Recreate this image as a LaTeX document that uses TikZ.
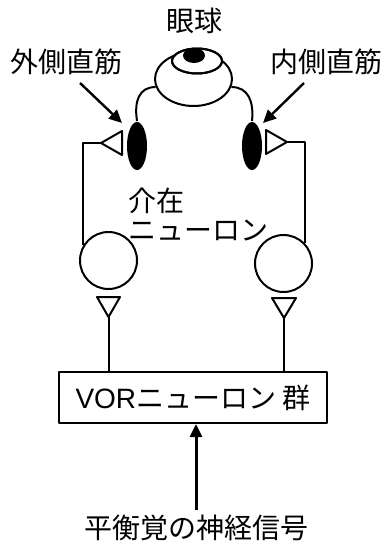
\documentclass[tikz,border=0pt]{standalone}
\usepackage{fontspec}
\setmainfont{Noto Sans CJK JP}
\newfontfamily\latin{Liberation Sans}
\usetikzlibrary{arrows.meta,shapes.geometric}
\begin{document}
\begin{tikzpicture}[x=1pt, y=-1pt, line width=2pt, line join=round,
		font=\fontsize{28}{29}\selectfont,
		neuron/.style={circle, draw, minimum size=57pt, inner sep=0pt},
		muscle/.style={ellipse, fill=black, minimum width=20pt, minimum height=48pt, inner sep=0pt},
		pointer/.style={-{Triangle[length=13pt,width=12pt]}, line width=2.4pt}]
				\useasboundingbox (0,0) rectangle (386,546);
				% Nhãn
				\node (eyeLbl) at (194,21) {眼球};
				\node (latLbl) at (66,62) {外側直筋};
				\node (medLbl) at (326,62) {内側直筋};
				\node[align=left, anchor=west, inner sep=0pt] (interLbl) at (127,214) {介在\\ニューロン};
				% Nhãn cầu
				\node[ellipse, draw, minimum width=77pt, minimum height=54pt, inner sep=0pt] (eye) at (193.5,79) {};
				\draw[fill=white] (197,61) ellipse [x radius=25, y radius=12.5];
				\begin{scope}
					\clip (197,61) ellipse [x radius=25, y radius=12.5];
					\fill (194,55.5) ellipse [x radius=11, y radius=7.5];
				\end{scope}
				\draw (197,61) ellipse [x radius=25, y radius=12.5];
				% Cơ
				\node[muscle] (latMus) at (137,146) {};
				\node[muscle] (medMus) at (252,146) {};
				\draw (eye.192) .. controls (139,87) and (134,101) .. (latMus.north);
				\draw (eye.-12) .. controls (248,87) and (254,101) .. (medMus.north);
				% Mũi tên chỉ cơ
				\coordinate (latHead) at (122,123);
				\coordinate (medHead) at (263,123);
				\draw[pointer] (80,83) -- (latHead);
				\draw[pointer] (304,83) -- (medHead);
				% Đầu tận thần kinh
				\coordinate (latTip) at (101,143);
				\coordinate (medTip) at (287,142);
				\draw (latTip) -- (122,131) -- (122,155) -- cycle;
				\draw (medTip) -- (266,130) -- (266,154) -- cycle;
				% Nơron trung gian
				\node[neuron] (inL) at (108.5,260.5) {};
				\node[neuron] (inR) at (283.5,263.5) {};
				\draw (latTip) -| (inL.149);
				\draw (medTip) -| (inR.44);
				\coordinate (outL) at (108.5,317);
				\coordinate (outR) at (284,318);
				\draw (outL) -- (97,297) -- (120,297) -- cycle;
				\draw (outR) -- (272,298) -- (296,298) -- cycle;
				% Khối VOR
				\node[draw, minimum width=268pt, minimum height=51pt, inner sep=0pt] (vor) at (193,397.5) {{\latin VOR}ニューロン 群};
				\draw (outL) -- (outL |- vor.north);
				\draw (outR) -- (outR |- vor.north);
				% Tín hiệu vào
				\node (sig) at (196,528) {平衡覚の神経信号};
				\draw[pointer, line width=3pt] (196,510) -- (vor.south -| 196,0);
			\end{tikzpicture}
\end{document}
